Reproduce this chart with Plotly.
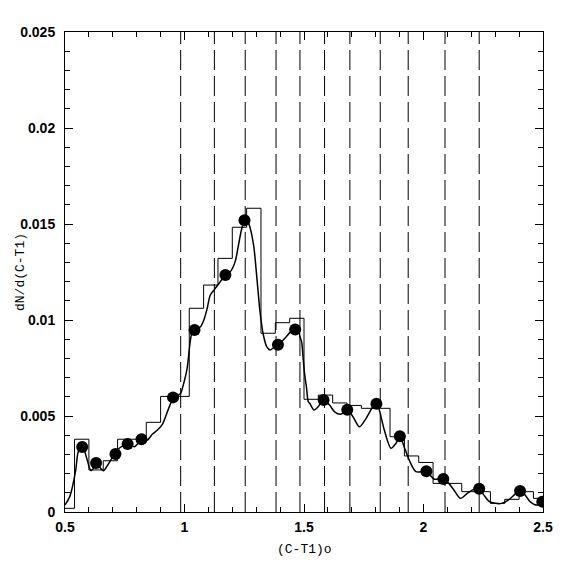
import plotly.graph_objects as go

# histogram: bin left edges (width 0.06) and heights
bin_edges = [0.48, 0.54, 0.60, 0.66, 0.72, 0.78, 0.84, 0.90, 0.96, 1.02, 1.08,
             1.14, 1.20, 1.26, 1.32, 1.38, 1.44, 1.50, 1.56, 1.62, 1.68, 1.74,
             1.80, 1.86, 1.92, 1.98, 2.04, 2.10, 2.16, 2.22, 2.28, 2.34, 2.40,
             2.46, 2.52]
bin_values = [0.00019, 0.00379, 0.00219, 0.00267, 0.00379, 0.00379, 0.00467,
              0.00602, 0.00602, 0.01061, 0.01182, 0.01321, 0.01483, 0.01582,
              0.00931, 0.00986, 0.01009, 0.00587, 0.00609, 0.00568, 0.00555,
              0.00540, 0.00540, 0.00392, 0.00292, 0.00258, 0.00149, 0.00149,
              0.00106, 0.00106, 0.00045, 0.00066, 0.00106, 0.00071]

# smoothed density curve
curve_x = [0.500, 0.520, 0.545, 0.554, 0.571, 0.589, 0.603, 0.609, 0.624, 0.633,
           0.644, 0.661, 0.679, 0.700, 0.711, 0.727, 0.762, 0.790, 0.817, 0.845,
           0.866, 0.887, 0.908, 0.952, 0.984, 0.991, 1.011, 1.019, 1.029, 1.042,
           1.067, 1.081, 1.095, 1.108, 1.129, 1.150, 1.171, 1.192, 1.212, 1.226,
           1.240, 1.257, 1.271, 1.289, 1.303, 1.316, 1.330, 1.344, 1.358, 1.379,
           1.391, 1.420, 1.444, 1.462, 1.476, 1.483, 1.490, 1.497, 1.503, 1.510,
           1.518, 1.524, 1.542, 1.559, 1.581, 1.607, 1.628, 1.656, 1.681, 1.705,
           1.732, 1.760, 1.788, 1.803, 1.815, 1.836, 1.864, 1.885, 1.901, 1.919,
           1.940, 1.968, 1.996, 2.012, 2.044, 2.083, 2.106, 2.127, 2.155, 2.183,
           2.210, 2.233, 2.252, 2.273, 2.300, 2.328, 2.356, 2.384, 2.404, 2.425,
           2.446, 2.474, 2.495]
curve_y = [0.00037, 0.00080, 0.00219, 0.00307, 0.00354, 0.00288, 0.00228, 0.00215,
           0.00236, 0.00258, 0.00236, 0.00215, 0.00245, 0.00288, 0.00302, 0.00332,
           0.00354, 0.00340, 0.00370, 0.00375, 0.00406, 0.00427, 0.00458, 0.00590,
           0.00618, 0.00644, 0.00748, 0.00835, 0.00922, 0.00948, 0.00965, 0.01000,
           0.01061, 0.01130, 0.01165, 0.01200, 0.01234, 0.01252, 0.01304, 0.01391,
           0.01478, 0.01530, 0.01495, 0.01391, 0.01217, 0.01043, 0.00922, 0.00861,
           0.00844, 0.00861, 0.00870, 0.00905, 0.00938, 0.00952, 0.00957, 0.00913,
           0.00887, 0.00792, 0.00714, 0.00653, 0.00574, 0.00566, 0.00531, 0.00548,
           0.00583, 0.00557, 0.00522, 0.00510, 0.00533, 0.00496, 0.00444, 0.00488,
           0.00548, 0.00564, 0.00531, 0.00427, 0.00332, 0.00358, 0.00394, 0.00340,
           0.00271, 0.00210, 0.00210, 0.00212, 0.00172, 0.00172, 0.00149, 0.00115,
           0.00071, 0.00097, 0.00118, 0.00121, 0.00089, 0.00057, 0.00045, 0.00045,
           0.00063, 0.00094, 0.00111, 0.00089, 0.00054, 0.00036, 0.00054]

# filled points
dot_x = [0.572, 0.630, 0.711, 0.762, 0.820, 0.952, 1.042, 1.171, 1.251, 1.391,
         1.463, 1.582, 1.681, 1.803, 1.901, 2.012, 2.083, 2.233, 2.404, 2.497]
dot_y = [0.00339, 0.00255, 0.00302, 0.00354, 0.00379, 0.00597, 0.00948, 0.01234,
         0.01519, 0.00871, 0.00951, 0.00583, 0.00533, 0.00564, 0.00394, 0.00212,
         0.00172, 0.00121, 0.00109, 0.00054]

# dashed boundaries
boundary_x = [0.984, 1.125, 1.254, 1.383, 1.483, 1.586, 1.692, 1.819, 1.936,
              2.090, 2.233]

fig = go.Figure()
fig.add_trace(
    go.Scatter(
        x=bin_edges,
        y=bin_values + [bin_values[-1]],
        mode="lines",
        line={"color": "black", "width": 1, "shape": "hv"},
    )
)
fig.add_trace(
    go.Scatter(
        x=curve_x,
        y=curve_y,
        mode="lines",
        line={"color": "black", "width": 1.5, "shape": "spline", "smoothing": 0.8},
    )
)
fig.add_trace(
    go.Scatter(
        x=dot_x,
        y=dot_y,
        mode="markers",
        marker={"color": "black", "size": 12},
    )
)
for bx in boundary_x:
    fig.add_vline(x=bx, line={"color": "black", "width": 1, "dash": "20px,6px"})

axis_common = {
    "showline": True,
    "linecolor": "black",
    "linewidth": 1,
    "mirror": "ticks",
    "ticks": "inside",
    "ticklen": 8,
    "tickcolor": "black",
    "showgrid": False,
    "zeroline": False,
    "tickfont": {"family": "Liberation Sans", "size": 14, "color": "black", "weight": "bold"},
}

# the page body adds an 8px offset, so the figure is 8px smaller and shifted
fig.update_layout(
    width=566,
    height=566,
    margin={"l": 54, "r": 31, "t": 24, "b": 62},
    paper_bgcolor="white",
    plot_bgcolor="white",
    showlegend=False,
    xaxis={
        **axis_common,
        "range": [0.5, 2.5],
        "dtick": 0.5,
        "tick0": 0.5,
        "ticklabelstandoff": 2,
        "minor": {"dtick": 0.1, "ticks": "inside", "ticklen": 5, "tickcolor": "black", "showgrid": False},
    },
    yaxis={
        **axis_common,
        "range": [0, 0.025],
        "dtick": 0.005,
        "ticklabelstandoff": 6,
        "minor": {"dtick": 0.001, "ticks": "inside", "ticklen": 5, "tickcolor": "black", "showgrid": False},
    },
    annotations=[
        {
            "text": "(C-T1)o",
            "xref": "paper", "yref": "paper", "x": 0.5, "y": 0,
            "yshift": -37, "showarrow": False, "yanchor": "middle",
            "font": {"family": "Liberation Mono", "size": 13, "color": "black"},
        },
        {
            "text": "dN/d(C-T1)",
            "xref": "paper", "yref": "paper", "x": 0, "y": 0.5,
            "xshift": -45, "showarrow": False, "xanchor": "center", "textangle": -90,
            "font": {"family": "Liberation Mono", "size": 13, "color": "black"},
        },
    ],
)

fig.write_html("out.html")
